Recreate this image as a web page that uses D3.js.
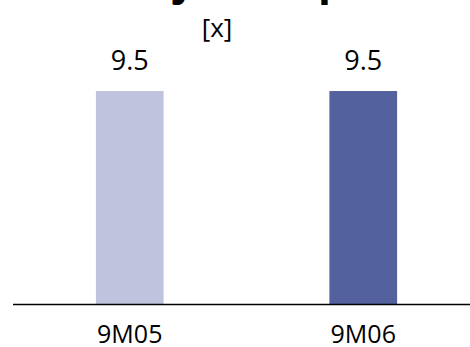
<!DOCTYPE html>
<html><head><meta charset="utf-8">
<script src="https://cdn.jsdelivr.net/npm/d3@7"></script>
<style>body{margin:0;background:#fff}svg{display:block}text{font-family:"Open Sans",sans-serif}</style>
</head><body>
<script>
const title = "Adjusted price/book";
const unit = "[x]";
const categories = ["9M05", "9M06"];
const values = [9.5, 9.5];
const colors = ["#c0c3de", "#53619e"];

const W = 470, H = 347;
const svg = d3.select("body").append("svg").attr("width", W).attr("height", H);

const x = d3.scaleBand().domain(categories).range([13, 480]).padding(0);
const y = d3.scaleLinear().domain([0, 10]).range([304.5, 79.8]);
const barW = x.bandwidth() * 0.29;

// title: mostly above the top edge, only descenders visible
function measure(str, size) {
  const t = svg.append("text").attr("font-size", size).attr("font-weight", "bold").text(str);
  const w = t.node().getComputedTextLength(); t.remove(); return w;
}
const base = 30;
const gap = measure("Adjusted ", base) - measure("Ad", base);
const tSize = base * 132 / gap;
const tStart = 176 - measure("Ad", tSize) - tSize * 0.02;
svg.append("text").attr("x", tStart).attr("y", -5)
  .attr("font-size", tSize).attr("font-weight", "bold").attr("fill", "#000").text(title);

svg.append("text").attr("x", 217).attr("y", 37).attr("text-anchor", "middle")
  .attr("font-size", 26).attr("fill", "#000").text(unit);

svg.selectAll("rect.bar").data(values).join("rect").attr("class", "bar")
  .attr("x", (d, i) => x(categories[i]) + x.bandwidth() / 2 - barW / 2)
  .attr("width", barW)
  .attr("y", d => y(d))
  .attr("height", d => y(0) - y(d))
  .attr("fill", (d, i) => colors[i]);

svg.selectAll("text.val").data(values).join("text").attr("class", "val")
  .attr("x", (d, i) => x(categories[i]) + x.bandwidth() / 2)
  .attr("y", d => y(d) - 21)
  .attr("text-anchor", "middle").attr("font-size", 27).attr("fill", "#000")
  .text(d => d3.format(".1f")(d));

const axis = svg.append("g").attr("transform", `translate(0,${y(0)})`)
  .call(d3.axisBottom(x).tickSize(0).tickPadding(0));
axis.select(".domain").attr("stroke", "#000").attr("stroke-width", 1.5).attr("d", "M13,0H470");
axis.selectAll("text").attr("font-size", 25).attr("fill", "#000")
  .attr("font-family", "'Open Sans',sans-serif").attr("dy", null).attr("y", 38.5);
</script>
</body></html>
